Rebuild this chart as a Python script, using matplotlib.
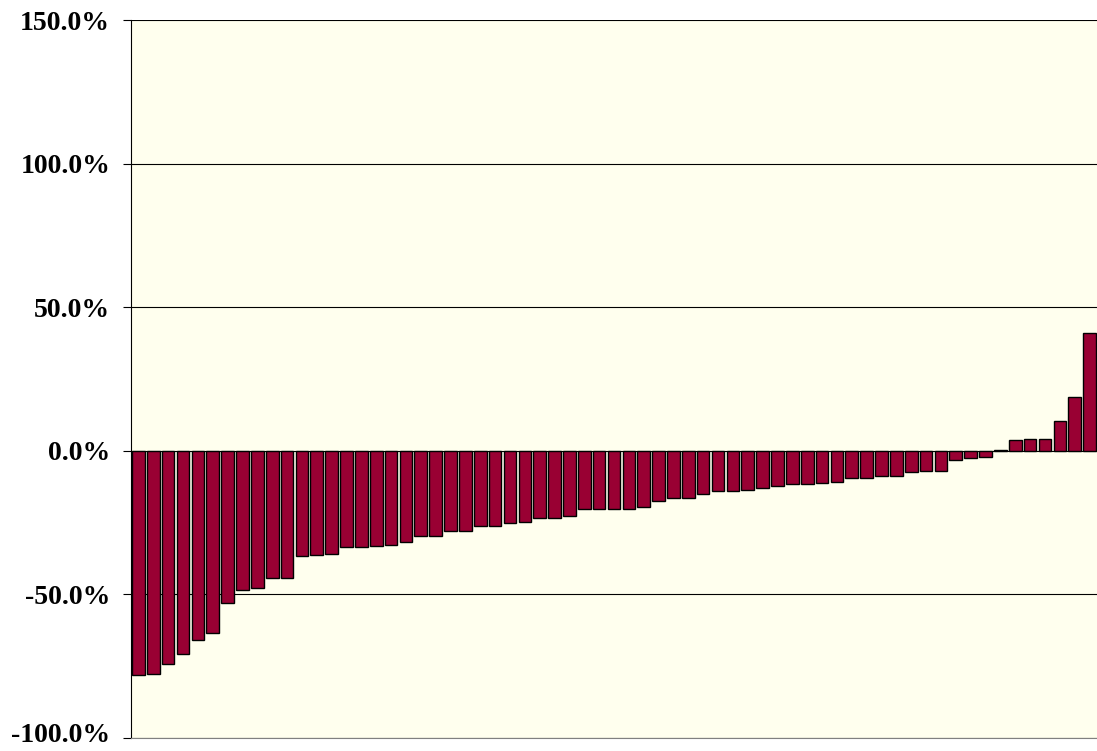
import matplotlib
matplotlib.use('Agg')
import matplotlib.pyplot as plt
import matplotlib.transforms as mtransforms
from matplotlib.ticker import FuncFormatter

# percent change per item, sorted ascending
values = [
    -78.1, -77.8, -74.2, -70.8, -65.9, -63.4, -53.1, -48.4, -47.6, -44.3,
    -44.3, -36.6, -36.2, -35.8, -33.4, -33.4, -33.1, -32.7, -31.6, -29.5,
    -29.5, -28.0, -28.0, -26.2, -26.2, -25.2, -24.7, -23.3, -23.3, -22.6,
    -20.4, -20.4, -20.2, -20.2, -19.5, -17.6, -16.5, -16.5, -15.1, -14.0,
    -14.0, -13.7, -12.9, -12.4, -11.4, -11.4, -11.1, -10.7, -9.6, -9.3,
    -8.9, -8.7, -7.5, -7.2, -7.2, -3.3, -2.5, -2.2, 0.3, 3.7,
    4.1, 4.1, 10.4, 18.7, 41.0,
]
yticks = [-100, -50, 0, 50, 100, 150]

fig = plt.figure(figsize=(10.97, 7.51), dpi=100)
ax = fig.add_axes([131 / 1097, 1 - 738 / 751, 966 / 1097, 718 / 751])
ax.set_facecolor('#FFFFEE')

x = list(range(len(values)))
ax.bar(x, values, width=0.85, color='#990033', edgecolor='black', linewidth=1.0, zorder=3)

ax.set_xlim(-0.5, len(values) - 0.5)
ax.set_ylim(-100, 150)
ax.set_yticks(yticks)
ax.yaxis.set_major_formatter(FuncFormatter(lambda v, p: f'{v:.1f}%'))
for t in yticks:
    ax.axhline(t, color='black', linewidth=0.8, zorder=1)

ax.set_xticks([])
ax.tick_params(axis='y', direction='out', length=6, width=0.8, pad=9)
for lab in ax.get_yticklabels():
    lab.set_fontfamily('Liberation Serif')
    lab.set_fontweight('bold')
    lab.set_fontsize(20)

# lowest label sits at the figure edge; lift it a few pixels so it stays inside
bottom_lab = ax.yaxis.get_major_ticks()[0].label1
bottom_lab.set_transform(bottom_lab.get_transform()
                         + mtransforms.ScaledTranslation(0, 4 / 72, fig.dpi_scale_trans))

ax.spines['top'].set_visible(False)
ax.spines['right'].set_visible(False)
ax.spines['left'].set_color('black')
ax.spines['bottom'].set_color('#808080')

fig.savefig('out.png', dpi=100)
